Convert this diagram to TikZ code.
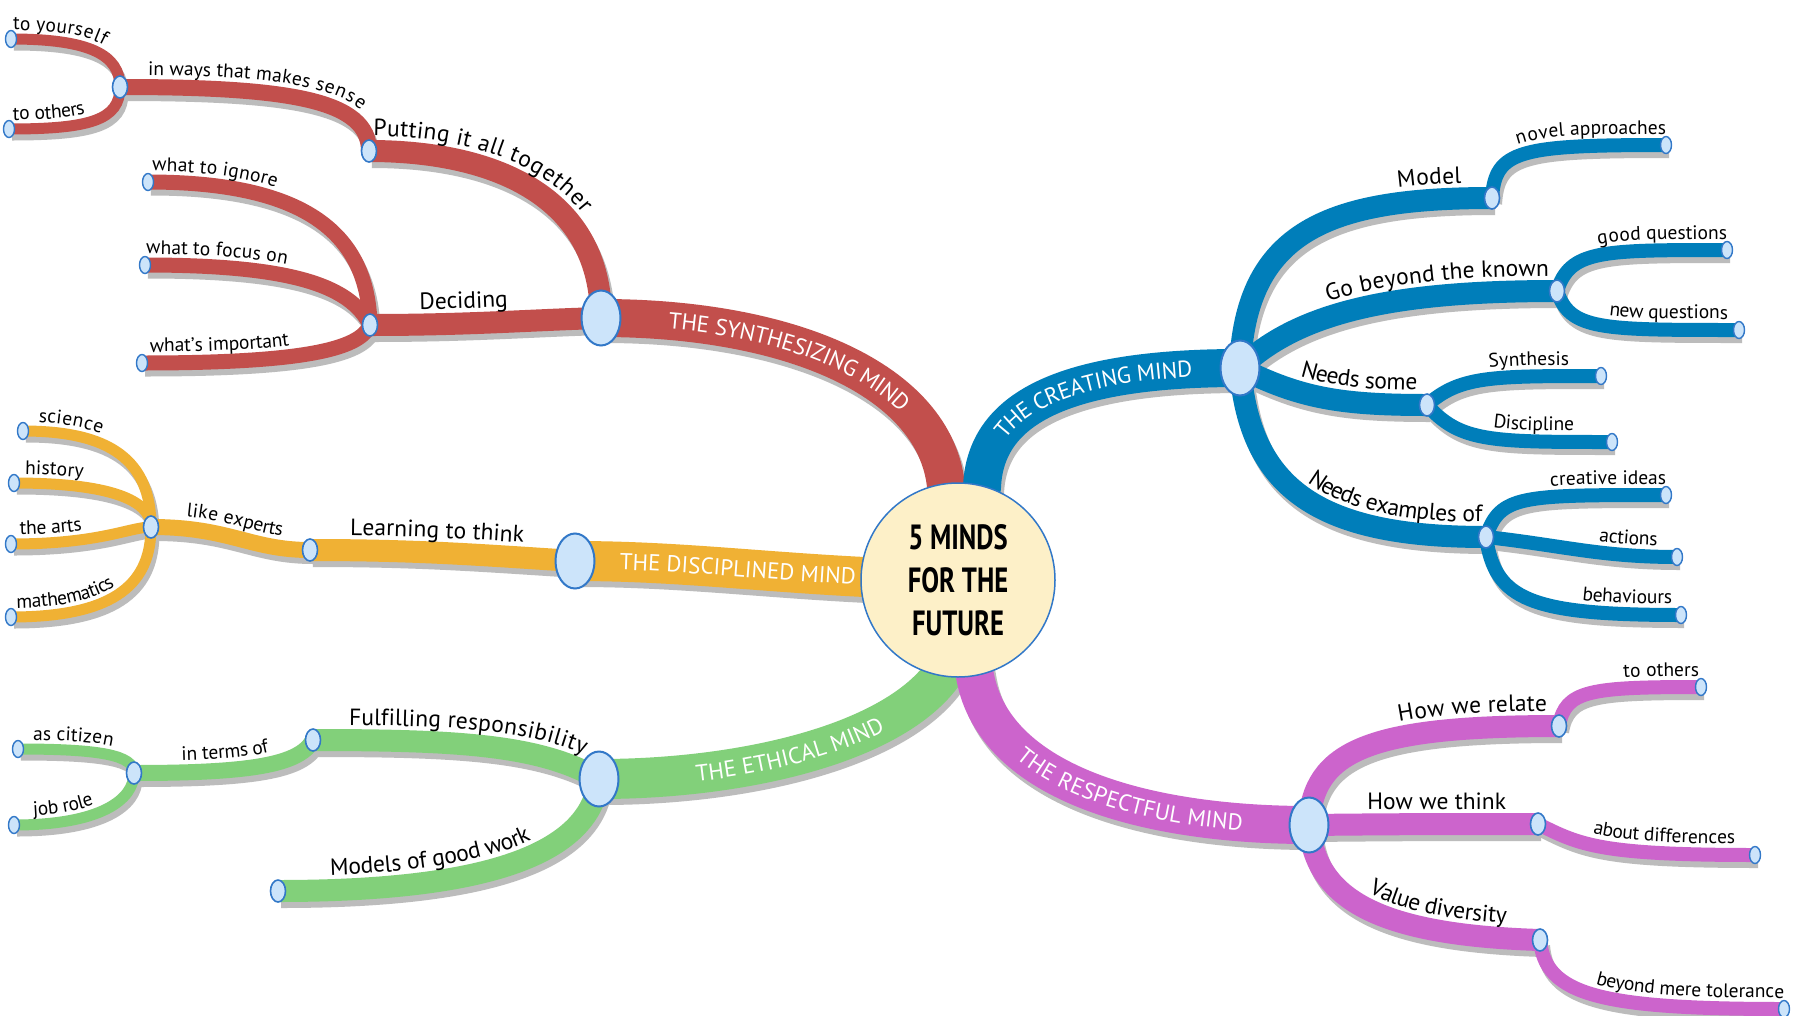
\documentclass[tikz,border=0pt]{standalone}
\usepackage{fontspec}
\usepackage{graphicx}
\setmainfont{PT Sans}
\usetikzlibrary{shapes.geometric,decorations.text}
\definecolor{cR}{RGB}{194,79,76}
\definecolor{cB}{RGB}{0,126,186}
\definecolor{cO}{RGB}{240,177,52}
\definecolor{cG}{RGB}{130,208,122}
\definecolor{cM}{RGB}{204,100,204}
\definecolor{shadowc}{RGB}{188,188,188}
\definecolor{nodefill}{RGB}{204,228,250}
\definecolor{nodeline}{RGB}{50,120,200}
\definecolor{ctrfill}{RGB}{253,240,200}
\newcommand\szM{\fontsize{23}{23}\selectfont}
\newcommand\szA{\fontsize{23.5}{23.5}\selectfont}
\newcommand\szB{\fontsize{19.5}{19.5}\selectfont}
\newcommand\szC{\fontsize{19.5}{19.5}\selectfont}
\tikzset{
  shad/.style={draw=shadowc, transform canvas={shift={(3pt,-6pt)}}},
  tl/.style={decorate, decoration={text along path, #1}},
  mainnode/.style={ellipse, minimum width=39pt, minimum height=55pt, inner sep=0pt, fill=nodefill, draw=nodeline, line width=2pt},
  jnode/.style={ellipse, minimum width=15pt, minimum height=22pt, inner sep=0pt, fill=nodefill, draw=nodeline, line width=1.6pt},
  enode/.style={ellipse, minimum width=11pt, minimum height=17pt, inner sep=0pt, fill=nodefill, draw=nodeline, line width=1.4pt},
  ctrnode/.style={circle, minimum size=194pt, inner sep=0pt, fill=ctrfill, draw=nodeline, line width=1.5pt, align=center, font=\bfseries\fontsize{35}{43}\selectfont}
}
\newcommand\branches{%
% synthesizing
\BR{cR}{38pt}{(S) .. controls (790,318) and (935,380) .. (Cs) -- (C)}{text={|\szM|THE SYNTHESIZING MIND}, text color=white, raise=-8pt, text align={left indent=68pt}}
\BR{cR}{22pt}{(SA) .. controls (500,151) and (601,200) .. (S)}{text={|\szA|Putting it all together}, raise=15pt, text align={left indent=4pt}}
\BR{cR}{16pt}{(SA1) .. controls (290,87) and (369,100) .. (SA)}{text={|\szB|in ways that makes sense}, raise=12pt, text align={left indent=28pt}}
\BR{cR}{11pt}{(SA1a) .. controls (90,39) and (120,55) .. (SA1)}{text={|\szB|to yourself}, raise=9pt, text align={left indent=2pt}}
\BR{cR}{11pt}{(SA1b) .. controls (90,129) and (120,120) .. (SA1)}{text={|\szB|to others}, raise=9pt, text align={left indent=4pt}}
\BR{cR}{22pt}{(SB) .. controls (470,325) and (530,320) .. (S)}{text={|\szA|Deciding}, raise=15pt, text align={left indent=50pt}}
\BR{cR}{15pt}{(SB1) .. controls (300,182) and (368,230) .. (SB)}{text={|\szB|what to ignore}, raise=11pt, text align={left indent=4pt}}
\BR{cR}{15pt}{(SB2) .. controls (290,265) and (350,285) .. (SB)}{text={|\szB|what to focus on}, raise=11pt, text align={left indent=1pt}}
\BR{cR}{15pt}{(SB3) .. controls (300,363) and (360,350) .. (SB)}{text={|\szB|what's important}, raise=11pt, text align={left indent=8pt}}
% creating
\BR{cB}{38pt}{(C) -- (Kc) .. controls (985,415) and (1050,368) .. (K)}{text={|\szM|THE CREATING MIND}, text color=white, raise=-8pt, text align={left indent=152pt}}
\BR{cB}{22pt}{(K) .. controls (1245,230) and (1330,198) .. (KA)}{text={|\szA|Model}, raise=15pt, text align={right, right indent=30pt}}
\BR{cB}{14pt}{(KA) .. controls (1495,150) and (1520,145) .. (KA1)}{text={|\szB|novel approaches}, raise=11pt, text align={right, right indent=0pt}}
\BR{cB}{22pt}{(K) .. controls (1300,310) and (1400,291) .. (KB)}{text={|\szA|Go beyond the known}, raise=15pt, text align={right, right indent=8pt}}
\BR{cB}{14pt}{(KB) .. controls (1570,250) and (1600,250) .. (KB1)}{text={|\szB|good questions}, raise=11pt, text align={right, right indent=0pt}}
\BR{cB}{14pt}{(KB) .. controls (1570,330) and (1600,330) .. (KB2)}{text={|\szB|new questions}, raise=11pt, text align={right, right indent=11pt}}
\BR{cB}{22pt}{(K) .. controls (1300,398) and (1340,405) .. (KC)}{text={|\szA|Needs some}, raise=15pt, text align={right, right indent=10pt}}
\BR{cB}{14pt}{(KC) .. controls (1460,376) and (1490,376) .. (KC1)}{text={|\szC|Synthesis}, raise=11pt, text align={right, right indent=32pt}}
\BR{cB}{14pt}{(KC) .. controls (1460,442) and (1490,442) .. (KC2)}{text={|\szC|Discipline}, raise=11pt, text align={right, right indent=38pt}}
\BR{cB}{22pt}{(K) .. controls (1250,490) and (1320,537) .. (KD)}{text={|\szA|Needs examples of}, raise=15pt, text align={right, right indent=4pt}}
\BR{cB}{14pt}{(KD) .. controls (1500,495) and (1520,495) .. (KD1)}{text={|\szB|creative ideas}, raise=11pt, text align={right, right indent=0pt}}
\BR{cB}{14pt}{(KD) .. controls (1560,545) and (1600,557) .. (KD2)}{text={|\szB|actions}, raise=11pt, text align={right, right indent=20pt}}
\BR{cB}{14pt}{(KD) .. controls (1495,600) and (1530,615) .. (KD3)}{text={|\szB|behaviours}, raise=11pt, text align={right, right indent=9pt}}
% disciplined
\BR{cO}{40pt}{(Dn) .. controls (700,561) and (800,578) .. (C)}{text={|\szM|THE DISCIPLINED MIND}, text color=white, raise=-8pt, text align={left indent=45pt}}
\BR{cO}{22pt}{(DA) .. controls (420,550) and (480,555) .. (Dn)}{text={|\szA|Learning to think}, raise=15pt, text align={left indent=40pt}}
\BR{cO}{16pt}{(DA1) .. controls (230,527) and (250,550) .. (DA)}{text={|\szB|like experts}, raise=12pt, text align={left indent=34pt}}
\BR{cO}{11pt}{(DA1a) .. controls (110,431) and (151,460) .. (DA1)}{text={|\szB|science}, raise=9pt, text align={left indent=15pt}}
\BR{cO}{11pt}{(DA1b) .. controls (110,483) and (151,500) .. (DA1)}{text={|\szB|history}, raise=9pt, text align={left indent=11pt}}
\BR{cO}{11pt}{(DA1c) .. controls (100,544) and (130,527) .. (DA1)}{text={|\szB|the arts}, raise=9pt, text align={left indent=9pt}}
\BR{cO}{11pt}{(DA1d) .. controls (120,617) and (151,580) .. (DA1)}{text={|\szB|mathematics}, raise=9pt, text align={left indent=6pt}}
% ethical
\BR{cG}{40pt}{(E) .. controls (740,779) and (890,745) .. (Ce) -- (C)}{text={|\szM|THE ETHICAL MIND}, text color=white, raise=-8pt, text align={left indent=97pt}}
\BR{cG}{22pt}{(EA) .. controls (460,740) and (540,745) .. (E)}{text={|\szA|Fulfilling responsibility}, raise=15pt, text align={left indent=36pt}}
\BR{cG}{16pt}{(EA1) .. controls (250,773) and (300,765) .. (EA)}{text={|\szB|in terms of}, raise=12pt, text align={left indent=48pt}}
\BR{cG}{11pt}{(EA1a) .. controls (100,749) and (134,755) .. (EA1)}{text={|\szB|as citizen}, raise=9pt, text align={left indent=15pt}}
\BR{cG}{11pt}{(EA1b) .. controls (100,825) and (134,800) .. (EA1)}{text={|\szB|job role}, raise=9pt, text align={left indent=20pt}}
\BR{cG}{22pt}{(EB) .. controls (470,891) and (590,860) .. (E)}{text={|\szA|Models of good work}, raise=15pt, text align={left indent=53pt}}
% respectful
\BR{cM}{38pt}{(C) -- (Cr) .. controls (995,785) and (1150,825) .. (R)}{text={|\szM|THE RESPECTFUL MIND}, text color=white, raise=-8pt, text align={left indent=188pt}}
\BR{cM}{22pt}{(R) .. controls (1312,750) and (1370,726) .. (RA)}{text={|\szA|How we relate}, raise=15pt, text align={right, right indent=12pt}}
\BR{cM}{14pt}{(RA) .. controls (1565,690) and (1590,687) .. (RA1)}{text={|\szC|to others}, raise=11pt, text align={right, right indent=2pt}}
\BR{cM}{22pt}{(R) .. controls (1400,824) and (1450,824) .. (RB)}{text={|\szA|How we think}, raise=15pt, text align={right, right indent=32pt}}
\BR{cM}{14pt}{(RB) .. controls (1580,845) and (1600,855) .. (RB1)}{text={|\szB|about differences}, raise=11pt, text align={right, right indent=20pt}}
\BR{cM}{22pt}{(R) .. controls (1315,900) and (1380,935) .. (RC)}{text={|\szA|Value diversity}, raise=15pt, text align={right, right indent=35pt}}
\BR{cM}{14pt}{(RC) .. controls (1545,995) and (1600,1009) .. (RC1)}{text={|\szB|beyond mere tolerance}, raise=11pt, text align={right, right indent=0pt}}
}
\begin{document}
\begin{tikzpicture}[x=1pt,y=-1pt]
\fill[white] (0,0) rectangle (1802,1015);
\useasboundingbox (0,0) rectangle (1802,1015);
% coordinates
\coordinate (C) at (958,580);
\coordinate (Cs) at (946,486);
\coordinate (Kc) at (982,487);
\coordinate (Ce) at (942,675);
\coordinate (Cr) at (975,676);
\coordinate (S) at (601,318);
\coordinate (SA) at (369,151);
\coordinate (SA1) at (120,87);
\coordinate (SA1a) at (11,39);
\coordinate (SA1b) at (9,129);
\coordinate (SB) at (370,325);
\coordinate (SB1) at (148,182);
\coordinate (SB2) at (145,265);
\coordinate (SB3) at (142,363);
\coordinate (K) at (1240,368);
\coordinate (KA) at (1492,198);
\coordinate (KA1) at (1666,145);
\coordinate (KB) at (1557,291);
\coordinate (KB1) at (1727,250);
\coordinate (KB2) at (1739,330);
\coordinate (KC) at (1427,405);
\coordinate (KC1) at (1601,376);
\coordinate (KC2) at (1612,442);
\coordinate (KD) at (1486,537);
\coordinate (KD1) at (1666,495);
\coordinate (KD2) at (1677,557);
\coordinate (KD3) at (1681,615);
\coordinate (Dn) at (575,561);
\coordinate (DA) at (310,550);
\coordinate (DA1) at (151,527);
\coordinate (DA1a) at (23,431);
\coordinate (DA1b) at (14,483);
\coordinate (DA1c) at (11,544);
\coordinate (DA1d) at (11,617);
\coordinate (E) at (599,779);
\coordinate (EA) at (313,740);
\coordinate (EA1) at (134,773);
\coordinate (EA1a) at (18,749);
\coordinate (EA1b) at (14,825);
\coordinate (EB) at (278,891);
\coordinate (R) at (1309,825);
\coordinate (RA) at (1559,726);
\coordinate (RA1) at (1701,687);
\coordinate (RB) at (1538,824);
\coordinate (RB1) at (1755,855);
\coordinate (RC) at (1540,940);
\coordinate (RC1) at (1784,1009);
% pass 1: shadows
\def\BR#1#2#3#4{\draw[line width=#2, shad] #3;}
\branches
% pass 2: branches
\def\BR#1#2#3#4{\draw[draw=#1, line width=#2] #3;}
\branches
% centre
\node[ctrnode] (ctr) at (C) {\scalebox{0.76}[1]{5 MINDS}\\\scalebox{0.76}[1]{FOR THE}\\\scalebox{0.76}[1]{FUTURE}};
% nodes
\foreach \n in {S,K,Dn,E,R} \node[mainnode] (n\n) at (\n) {};
\foreach \n in {SA,SA1,SB,KA,KB,KC,KD,DA,DA1,EA,EA1,RA,RB,RC} \node[jnode] (n\n) at (\n) {};
\foreach \n in {SA1a,SA1b,SB1,SB2,SB3,KA1,KB1,KB2,KC1,KC2,KD1,KD2,KD3,DA1a,DA1b,DA1c,DA1d,EA1a,EA1b,RA1,RB1,RC1} \node[enode] (n\n) at (\n) {};
\node[jnode] (nEB) at (EB) {};
% pass 3: labels
\def\BR#1#2#3#4{\path[tl={#4}] #3;}
\branches
\end{tikzpicture}
\end{document}
